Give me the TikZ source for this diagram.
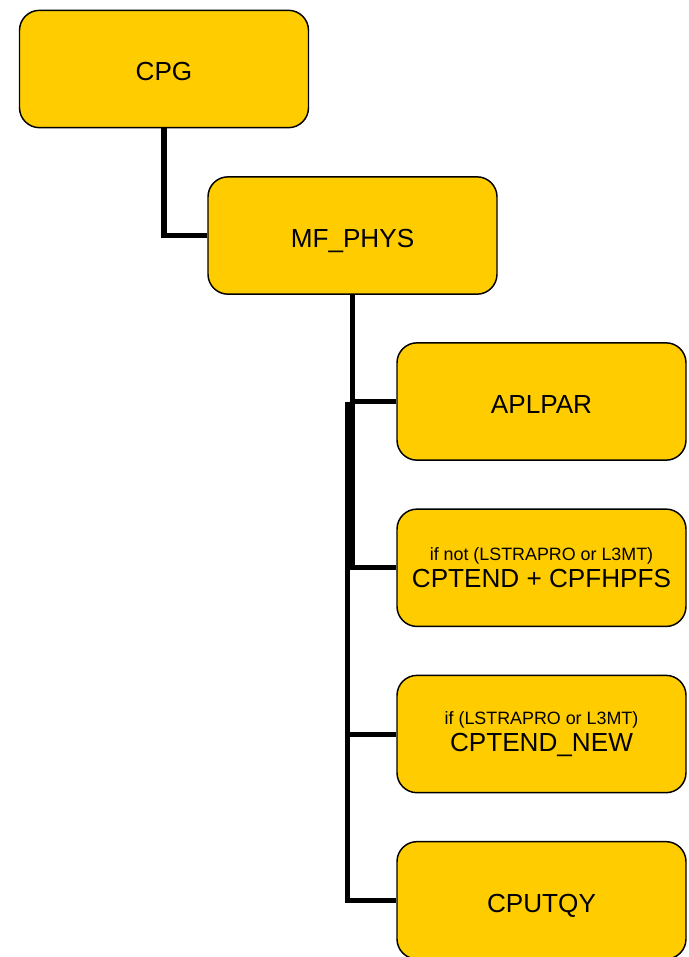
\documentclass[tikz,border=0pt]{standalone}
\usepackage{fontspec}
\setmainfont{Liberation Sans}
\usetikzlibrary{positioning}
\definecolor{boxgold}{RGB}{255,204,0}
\newcommand{\condtext}[1]{{\fontsize{13.4}{15}\selectfont #1}}

\begin{document}
\begin{tikzpicture}[x=0.75pt,y=-0.75pt,
unit/.style={draw,line width=1.1pt,rounded corners=15pt,fill=boxgold,
    minimum width=216.75pt,minimum height=88pt,align=center,
    font=\fontsize{19.6}{22}\selectfont},
oneline/.style={text height=17.6pt,text depth=0pt},
conn/.style={line width=3.8pt}]
\useasboundingbox (0,0) rectangle (689,957);

\node (cpg) [unit,oneline] at (164,69) {CPG};
\node (mfphys) [unit,oneline] at (352.5,235.5) {MF\_PHYS};
\node (aplpar) [unit,oneline] at (541.5,401.5) {APLPAR};
\node (cptend) [unit,below=35.6pt of aplpar] {\condtext{if not (LSTRAPRO or L3MT)}\\[-1.2pt]CPTEND + CPFHPFS};
\node (cptnew) [unit,below=35.6pt of cptend] {\condtext{if (LSTRAPRO or L3MT)}\\[-1.2pt]CPTEND\_NEW};
\node (cputqy) [unit,oneline,below=35.6pt of cptnew] {CPUTQY};

% connectors
\draw [conn] (cpg.south) |- (mfphys.west);
\draw [conn] (mfphys.south) |- (aplpar.west);
\draw [conn] (mfphys.south) |- (cptend.west);
\coordinate (split) at ([xshift=-3.75pt]mfphys.south |- aplpar.west);
\draw [conn] (split) |- (cptnew.west);
\draw [conn] (split) |- (cputqy.west);
\end{tikzpicture}
\end{document}
